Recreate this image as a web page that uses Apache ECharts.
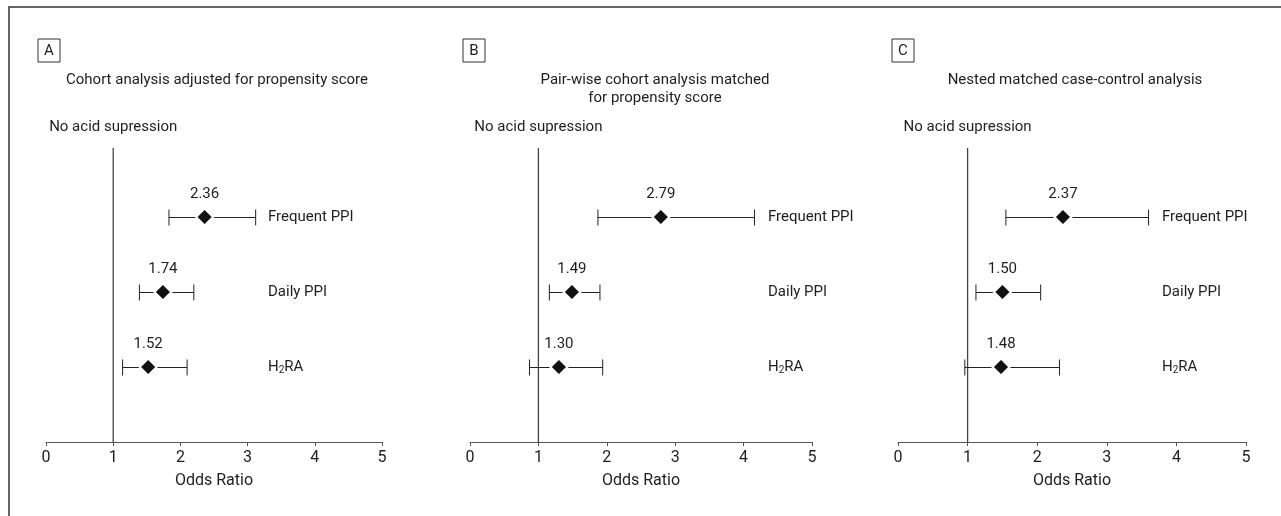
<!DOCTYPE html>
<html>
<head>
<meta charset="utf-8">
<script src="https://cdn.jsdelivr.net/npm/echarts@6/dist/echarts.min.js"></script>
<style>
  html, body { margin: 0; padding: 0; background: #fff; }
  #chart { width: 1281px; height: 516px; }
</style>
</head>
<body>
<div id="chart"></div>
<script>
// rows, top to bottom: Frequent PPI (y=3), Daily PPI (y=2), H2RA (y=1)
const rowNames = ['', 'H2RA', 'Daily PPI', 'Frequent PPI', ''];
const rowPos = [3, 2, 1];
const refValue = 1;
const refTop = 3.92;

const panelLetters = ['A', 'B', 'C'];
const panelTitles = [
  ['Cohort analysis adjusted for propensity score'],
  ['Pair-wise cohort analysis matched', 'for propensity score'],
  ['Nested matched case-control analysis']
];

// odds ratios and 95% CI per panel, order: Frequent PPI, Daily PPI, H2RA
const orA = [2.36, 1.74, 1.52];
const loA = [1.83, 1.39, 1.14];
const hiA = [3.12, 2.20, 2.10];

const orB = [2.79, 1.49, 1.30];
const loB = [1.87, 1.16, 0.87];
const hiB = [4.16, 1.90, 1.94];

const orC = [2.37, 1.50, 1.48];
const loC = [1.55, 1.12, 0.96];
const hiC = [3.60, 2.05, 2.32];

const panels = [
  { or: orA, lo: loA, hi: hiA },
  { or: orB, lo: loB, hi: hiB },
  { or: orC, lo: loC, hi: hiC }
];

const FONT = 'Roboto, "Liberation Sans", sans-serif';
const FS = 15;
const TXT = '#1e1e1e';

// layout of the three panels (pixels)
const grids = [
  { left: 46, width: 336 },
  { left: 470, width: 342 },
  { left: 898, width: 348 }
];
const labelOffsets = [-122, -52, -92];
const titleX = [217, 655, 1075];
const boxX = [38, 463, 892];

let chart = echarts.init(document.getElementById('chart'));

let grid = [], xAxis = [], yAxis = [], series = [], graphic = [];

// outer frame: top and left only
graphic.push({
  type: 'polyline',
  shape: { points: [[9, 516], [9, 7], [1281, 7]] },
  style: { stroke: '#333', lineWidth: 1.5, fill: null }
});

panels.forEach(function (p, k) {
  grid.push({ left: grids[k].left, width: grids[k].width, top: 142, bottom: 74 });

  xAxis.push({
    gridIndex: k,
    type: 'value',
    min: 0,
    max: 5,
    interval: 1,
    name: 'Odds Ratio',
    nameLocation: 'middle',
    nameGap: 31,
    nameTextStyle: { fontFamily: FONT, fontSize: FS + 1, color: TXT },
    axisLine: { lineStyle: { color: '#555', width: 1 } },
    axisTick: { show: true, length: 4, lineStyle: { color: '#555' } },
    axisLabel: { fontFamily: FONT, fontSize: FS + 1, color: TXT, margin: 8 },
    splitLine: { show: false }
  });

  yAxis.push({
    gridIndex: k,
    type: 'value',
    min: 0,
    max: 4,
    interval: 1,
    position: 'right',
    offset: labelOffsets[k],
    axisLine: { show: false },
    axisTick: { show: false },
    splitLine: { show: false },
    axisLabel: {
      fontFamily: FONT,
      fontSize: FS,
      color: TXT,
      margin: 8,
      formatter: function (v) {
        let name = rowNames[v] || '';
        if (name === 'H2RA') return '{n|H}{s|2}{n|RA}';
        return name;
      },
      rich: {
        n: { fontFamily: FONT, fontSize: FS, color: TXT },
        s: { fontFamily: FONT, fontSize: 10, color: TXT, verticalAlign: 'bottom', padding: [7, 0, 0, 0] }
      }
    }
  });

  let rows = p.or.map(function (v, i) {
    return [p.lo[i], p.hi[i], rowPos[i], v];
  });

  // reference line at OR = 1
  series.push({
    type: 'line',
    xAxisIndex: k,
    yAxisIndex: k,
    symbol: 'circle',
    symbolSize: 0,
    showSymbol: true,
    silent: true,
    lineStyle: { color: '#444', width: 1.3 },
    data: [
      [refValue, 0],
      {
        value: [refValue, refTop],
        label: {
          show: true,
          position: 'top',
          distance: 13,
          formatter: 'No acid supression',
          fontFamily: FONT,
          fontSize: FS,
          color: TXT
        }
      }
    ],
    z: 1
  });

  // confidence interval bars
  series.push({
    type: 'custom',
    xAxisIndex: k,
    yAxisIndex: k,
    data: rows,
    encode: { x: [0, 1], y: 2 },
    renderItem: function (params, api) {
      let a = api.coord([api.value(0), api.value(2)]);
      let b = api.coord([api.value(1), api.value(2)]);
      let h = 8;
      let y = Math.round(a[1]) + 0.5;
      let st = { stroke: '#222', lineWidth: 1 };
      return {
        type: 'group',
        children: [
          { type: 'line', shape: { x1: a[0], y1: y, x2: b[0], y2: y }, style: st },
          { type: 'line', shape: { x1: a[0], y1: y - h, x2: a[0], y2: y + h }, style: st },
          { type: 'line', shape: { x1: b[0], y1: y - h, x2: b[0], y2: y + h }, style: st }
        ]
      };
    },
    z: 2
  });

  // point estimates
  series.push({
    type: 'scatter',
    xAxisIndex: k,
    yAxisIndex: k,
    symbol: 'diamond',
    symbolSize: 17,
    itemStyle: { color: '#111', borderColor: '#fff', borderWidth: 2, opacity: 1 },
    data: p.or.map(function (v, i) { return [v, rowPos[i]]; }),
    label: {
      show: true,
      position: 'top',
      distance: 6,
      fontFamily: FONT,
      fontSize: FS,
      color: TXT,
      formatter: function (d) { return d.value[0].toFixed(2); }
    },
    z: 3
  });

  // panel letter box
  graphic.push({
    type: 'group',
    children: [
      { type: 'rect', shape: { x: boxX[k], y: 39, width: 22, height: 23 }, style: { stroke: '#333', lineWidth: 1, fill: '#fff' } },
      { type: 'text', x: boxX[k] + 11, y: 51, style: { text: panelLetters[k], font: FS + 'px ' + FONT, fill: TXT, align: 'center', verticalAlign: 'middle' } }
    ]
  });

  // panel title
  panelTitles[k].forEach(function (line, j) {
    graphic.push({
      type: 'text',
      x: titleX[k],
      y: 80 + j * 18,
      style: { text: line, font: FS + 'px ' + FONT, fill: TXT, align: 'center', verticalAlign: 'middle' }
    });
  });
});

chart.setOption({
  animation: false,
  backgroundColor: '#fff',
  grid: grid,
  xAxis: xAxis,
  yAxis: yAxis,
  series: series,
  graphic: graphic
});
</script>
</body>
</html>
